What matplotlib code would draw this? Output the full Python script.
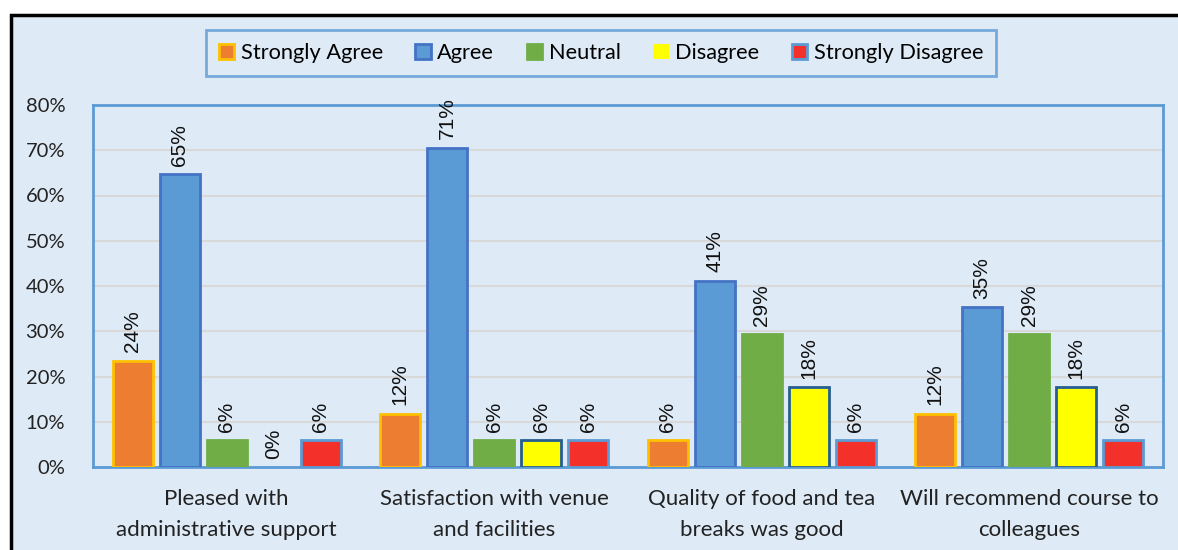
import numpy as np
import matplotlib.pyplot as plt
from matplotlib.patches import Rectangle

categories = ["Pleased with\nadministrative support", "Satisfaction with venue\nand facilities",
              "Quality of food and tea\nbreaks was good", "Will recommend course to\ncolleagues"]
series = ["Strongly Agree", "Agree", "Neutral", "Disagree", "Strongly Disagree"]
strongly_agree = [23.5, 11.8, 5.9, 11.8]
agree = [64.7, 70.6, 41.2, 35.3]
neutral = [5.9, 5.9, 29.4, 29.4]
disagree = [0.0, 5.9, 17.6, 17.6]
strongly_disagree = [5.9, 5.9, 5.9, 5.9]
yticks = [0, 10, 20, 30, 40, 50, 60, 70, 80]

values = [strongly_agree, agree, neutral, disagree, strongly_disagree]
faces = ['#ED7D31', '#5B9BD5', '#70AD47', '#FFFF00', '#F4302B']
edges = ['#FFC000', '#4472C4', '#70AD47', '#255E91', '#5B9BD5']
bg = '#DEEAF6'

fig = plt.figure(figsize=(11.78, 5.5), dpi=100, facecolor='white')
fig.patches.append(Rectangle((11/1178, -0.05), 1.1, 1 - 15/550 + 0.05, transform=fig.transFigure,
                             facecolor=bg, edgecolor='black', lw=2.5, zorder=-5))

ax = fig.add_axes([93/1178, 1 - 467/550, 1070/1178, 362/550])
ax.set_facecolor(bg)
x = np.arange(len(categories))
w = 0.15
step = 0.176
for i, (s, v) in enumerate(zip(series, values)):
    pos = x + (i - 2) * step
    lws = [2 if val > 0 else 0 for val in v]
    ax.bar(pos, v, width=w, color=faces[i], edgecolor=edges[i], linewidth=lws, label=s, zorder=3)
    for px, val in zip(pos, v):
        ax.annotate(f"{val:.0f}%", (px, val), xytext=(0, 6), textcoords='offset points',
                    rotation=90, ha='center', va='bottom', fontsize=15,
                    family='Liberation Sans', color='#111111')

ax.set_xlim(-0.5, 3.5)
ax.set_ylim(0, 80)
ax.set_yticks(yticks)
ax.set_yticklabels([f"{t}%" for t in yticks], family='Lato', fontsize=14.5, color='#222222')
ax.set_xticks(x)
ax.set_xticklabels(categories, family='Lato', fontsize=16, color='#222222', linespacing=1.65)
ax.tick_params(axis='both', length=0)
ax.tick_params(axis='y', pad=20)
ax.tick_params(axis='x', pad=16)
ax.grid(axis='y', color='#D9D9D9', lw=1.5, zorder=0)
for sp in ax.spines.values():
    sp.set_color('#5B9BD5')
    sp.set_linewidth(2)

leg = fig.legend(loc='center', bbox_to_anchor=(601/1178, 1 - 53/550), ncol=5, frameon=True,
                 fancybox=False, prop={'family': 'Lato', 'size': 15.7}, handlelength=0.7,
                 handleheight=0.7, handletextpad=0.3, columnspacing=1.5, borderpad=0.6,
                 borderaxespad=0)
leg.get_frame().set_edgecolor('#5B9BD5')
leg.get_frame().set_linewidth(2)
leg.get_frame().set_facecolor(bg)

fig.savefig('out.png', dpi=100, facecolor=fig.get_facecolor())
